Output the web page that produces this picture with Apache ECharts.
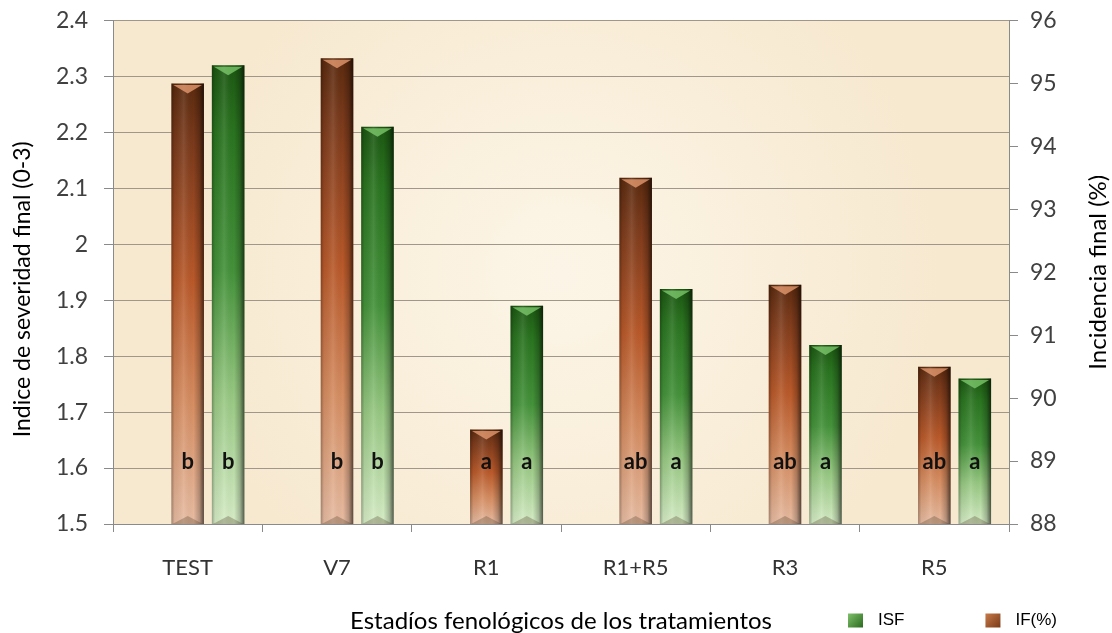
<!DOCTYPE html>
<html>
<head>
<meta charset="utf-8">
<script src="https://cdn.jsdelivr.net/npm/echarts@6/dist/echarts.min.js"></script>
<style>
  html, body { margin: 0; padding: 0; background: #ffffff; }
  #chart { width: 1112px; height: 633px; }
</style>
</head>
<body>
<div id="chart"></div>
<script>
// Treatments (phenological stages) and the two measured variables
const categories = ['TEST', 'V7', 'R1', 'R1+R5', 'R3', 'R5'];
const isfValues = [2.32, 2.21, 1.89, 1.92, 1.82, 1.76];   // Indice de severidad final (0-3)
const ifValues = [95.0, 95.4, 89.5, 93.5, 91.8, 90.5];    // Incidencia final (%)
// Mean-separation letters shown inside each bar
const isfLetters = ['b', 'b', 'a', 'a', 'a', 'a'];
const ifLetters = ['b', 'b', 'a', 'ab', 'ab', 'ab'];
// Axis ranges
const isfAxis = { min: 1.5, max: 2.4, interval: 0.1 };
const ifAxis = { min: 88, max: 96, interval: 1 };

const UI_FONT = 'Lato';
const grad = (x, y, x2, y2, stops) => new echarts.graphic.LinearGradient(x, y, x2, y2,
  stops.map(s => ({ offset: s[0], color: s[1] })));

const brownPalette = {
  body: [[0, '#5a2a0e'], [0.12, '#77381a'], [0.45, '#b9592a'], [0.72, '#d58c60'], [1, '#e7bca2']],
  cap: 'rgba(236,160,118,0.75)',
  legend: grad(0, 0, 1, 1, [[0, '#c77a4a'], [1, '#7a3a16']])
};
const greenPalette = {
  body: [[0, '#1c5712'], [0.15, '#2a7420'], [0.45, '#44923a'], [0.72, '#97c882'], [1, '#d6ecc6']],
  cap: 'rgba(130,205,112,0.75)',
  legend: grad(0, 0, 1, 1, [[0, '#7fc16a'], [1, '#2a6a1e']])
};

// Bevelled bar drawn from the axis scales; `shift` moves the bar within its band
function bevelBar(palette, letters, baseValue, shift) {
  return function (params, api) {
    const i = api.value(0);
    const topPt = api.coord([i, api.value(1)]);
    const basePt = api.coord([i, baseValue]);
    const band = api.size([1, 0])[0];
    const w = band * 0.218;
    const cx = topPt[0] + band * shift;
    const x0 = cx - w / 2;
    const x1 = cx + w / 2;
    const y0 = topPt[1];
    const y1 = basePt[1];
    const h = y1 - y0;
    return {
      type: 'group',
      children: [
        {
          type: 'rect',
          shape: { x: x0, y: y0, width: w, height: h },
          style: { fill: grad(0, 0, 0, 1, palette.body) }
        },
        {
          type: 'rect',
          shape: { x: x0, y: y0, width: w, height: h },
          style: {
            fill: grad(0, 0, 1, 0, [
              [0, 'rgba(0,0,0,0.30)'], [0.1, 'rgba(0,0,0,0.06)'], [0.38, 'rgba(255,255,255,0.10)'],
              [0.68, 'rgba(0,0,0,0)'], [0.86, 'rgba(0,0,0,0.22)'], [1, 'rgba(0,0,0,0.62)']
            ])
          }
        },
        {
          type: 'polygon',
          shape: { points: [[x0 + 2, y0 + 1.5], [x1 - 2, y0 + 1.5], [cx, y0 + 10]] },
          style: { fill: palette.cap }
        },
        {
          type: 'polygon',
          shape: { points: [[x0 + 1, y1], [x1 - 1, y1], [cx, y1 - 8]] },
          style: { fill: 'rgba(70,50,30,0.28)' }
        },
        {
          type: 'text',
          style: {
            text: letters[i], x: cx, y: y1 - 62, align: 'center', verticalAlign: 'middle',
            fontFamily: UI_FONT, fontWeight: 'bold', fontSize: 22, fill: '#111111'
          }
        }
      ]
    };
  };
}

const chart = echarts.init(document.getElementById('chart'), null, { renderer: 'canvas' });

const axisGrey = '#8a8a8a';
chart.setOption({
  animation: false,
  backgroundColor: '#ffffff',
  grid: {
    left: 113, right: 103, top: 20.5, bottom: 109,
    outerBoundsMode: 'none',
    containLabel: false,
    show: true, borderWidth: 0,
    backgroundColor: new echarts.graphic.RadialGradient(0.5, 0.5, 0.75, [
      { offset: 0, color: '#fcf5e7' }, { offset: 1, color: '#f7e9d0' }
    ])
  },
  legend: {
    data: ['ISF', 'IF(%)'],
    left: 843, top: 607,
    icon: 'rect', itemWidth: 15, itemHeight: 14, itemGap: 81,
    textStyle: { fontFamily: 'Liberation Sans', fontSize: 17, color: '#000000', padding: [0, 0, 0, 10] }
  },
  xAxis: {
    type: 'category',
    data: categories,
    name: 'Estadíos fenológicos de los tratamientos',
    nameLocation: 'middle', nameGap: 85,
    nameTextStyle: { fontFamily: UI_FONT, fontSize: 24, color: '#000000' },
    axisLine: { lineStyle: { color: axisGrey } },
    axisTick: { show: true, length: 8, lineStyle: { color: axisGrey } },
    axisLabel: { fontFamily: UI_FONT, fontSize: 22, color: '#333333', margin: 33 },
    splitLine: { show: false }
  },
  yAxis: [
    {
      type: 'value', position: 'left',
      min: isfAxis.min, max: isfAxis.max, interval: isfAxis.interval,
      name: 'Indice de severidad final (0-3)',
      nameLocation: 'middle', nameGap: 79, nameRotate: 90,
      nameTextStyle: { fontFamily: UI_FONT, fontSize: 23, color: '#000000', padding: [0, 34, 0, 0] },
      axisLine: { show: true, lineStyle: { color: axisGrey } },
      axisTick: { show: true, length: 9, lineStyle: { color: axisGrey } },
      axisLabel: { fontFamily: UI_FONT, fontSize: 23, color: '#404040', margin: 25 },
      splitLine: { show: true, lineStyle: { color: '#a0968a', width: 1 } }
    },
    {
      type: 'value', position: 'right',
      min: ifAxis.min, max: ifAxis.max, interval: ifAxis.interval,
      name: 'Incidencia final (%)',
      nameLocation: 'middle', nameGap: 77, nameRotate: 90,
      nameTextStyle: { fontFamily: UI_FONT, fontSize: 24, color: '#000000' },
      axisLine: { show: true, lineStyle: { color: axisGrey } },
      axisTick: { show: true, length: 9, lineStyle: { color: axisGrey } },
      axisLabel: { fontFamily: UI_FONT, fontSize: 23, color: '#404040', margin: 21 },
      splitLine: { show: false }
    }
  ],
  series: [
    {
      name: 'IF(%)', type: 'custom', yAxisIndex: 1,
      itemStyle: { color: brownPalette.legend },
      renderItem: bevelBar(brownPalette, ifLetters, ifAxis.min, 0),
      data: ifValues.map((v, i) => [i, v]),
      encode: { x: 0, y: 1 }
    },
    {
      name: 'ISF', type: 'custom', yAxisIndex: 0,
      itemStyle: { color: greenPalette.legend },
      renderItem: bevelBar(greenPalette, isfLetters, isfAxis.min, 0.271),
      data: isfValues.map((v, i) => [i, v]),
      encode: { x: 0, y: 1 }
    }
  ]
});
</script>
</body>
</html>
